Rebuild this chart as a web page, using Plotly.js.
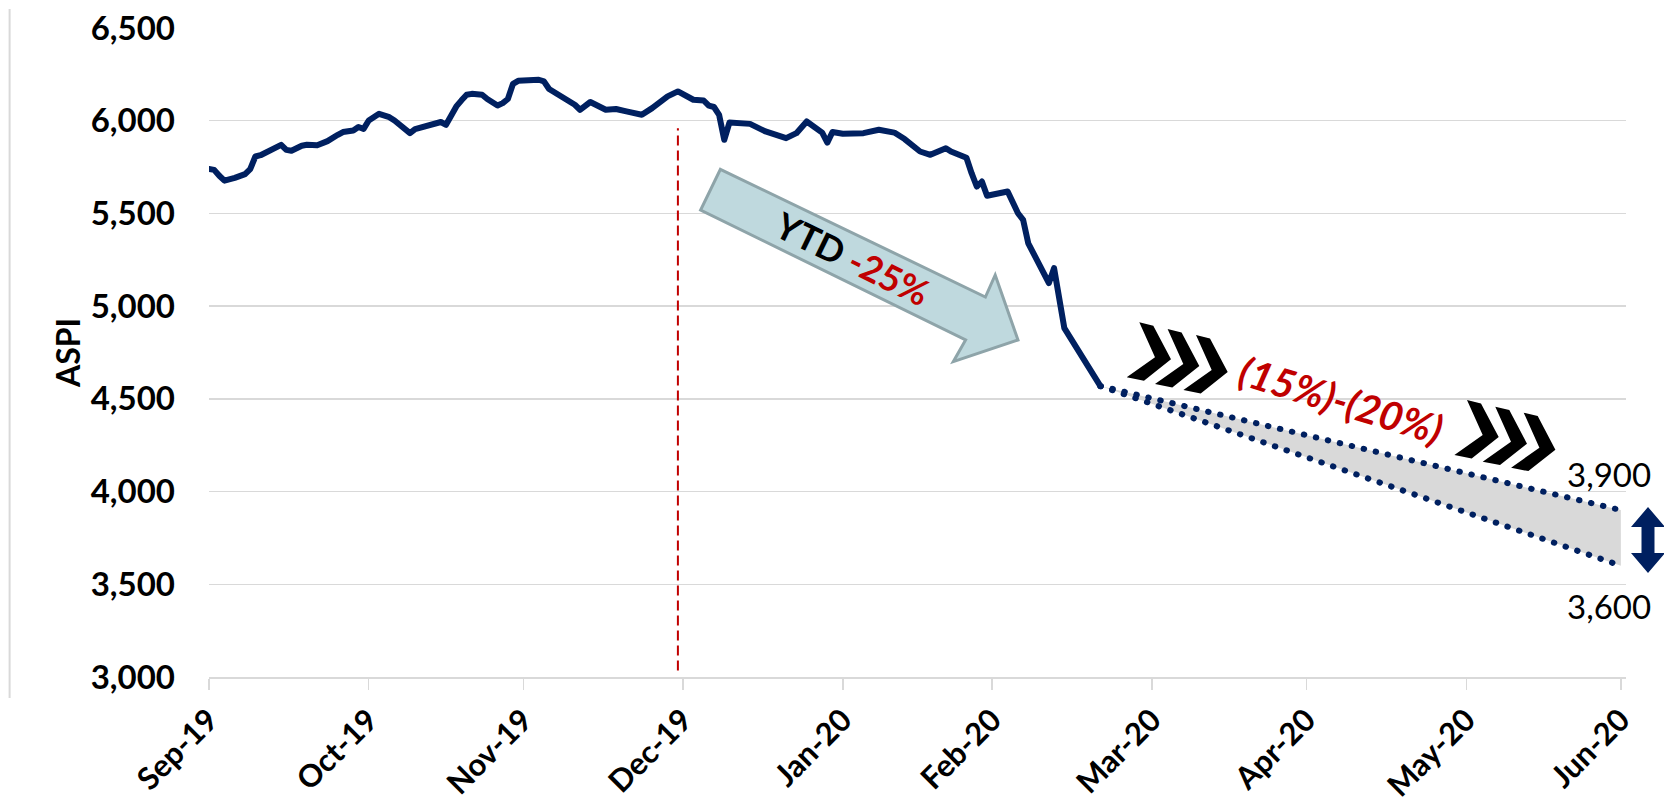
<!DOCTYPE html>
<html>
<head>
<meta charset="utf-8">
<script src="https://cdn.plot.ly/plotly-3.0.1.min.js"></script>
<style>
  html, body { margin: 0; padding: 0; background: #ffffff; }
  #chart { width: 1664px; height: 804px; }
  .scatterlayer .js-line { stroke-linecap: round; stroke-linejoin: round; }
</style>
</head>
<body>
<div id="chart"></div>
<script>
// ---- Data ----
const aspiDates = [
  "2019-09-30","2019-10-01","2019-10-02","2019-10-03","2019-10-05","2019-10-07","2019-10-08","2019-10-09","2019-10-10","2019-10-12",
  "2019-10-14","2019-10-15","2019-10-16","2019-10-18","2019-10-19","2019-10-21","2019-10-23","2019-10-25","2019-10-26","2019-10-28",
  "2019-10-29","2019-10-30","2019-10-31","2019-11-02","2019-11-04","2019-11-05","2019-11-07","2019-11-08","2019-11-09","2019-11-12",
  "2019-11-14","2019-11-15","2019-11-16","2019-11-17","2019-11-18","2019-11-19","2019-11-20","2019-11-22","2019-11-23","2019-11-25",
  "2019-11-26","2019-11-27","2019-11-28","2019-11-29","2019-12-03","2019-12-04","2019-12-05","2019-12-06","2019-12-09","2019-12-10",
  "2019-12-11","2019-12-13","2019-12-16","2019-12-18","2019-12-20","2019-12-21","2019-12-23","2019-12-25","2019-12-26","2019-12-28",
  "2019-12-30","2020-01-01","2020-01-02","2020-01-04","2020-01-05","2020-01-06","2020-01-07","2020-01-08","2020-01-09","2020-01-13",
  "2020-01-16","2020-01-20","2020-01-22","2020-01-24","2020-01-27","2020-01-28","2020-01-29","2020-01-31","2020-02-04","2020-02-07",
  "2020-02-10","2020-02-12","2020-02-15","2020-02-17","2020-02-20","2020-02-21","2020-02-24","2020-02-25","2020-02-26","2020-02-27",
  "2020-02-28","2020-03-03","2020-03-05","2020-03-06","2020-03-07","2020-03-11","2020-03-12","2020-03-14","2020-03-21"
];
const aspiValues = [
  5740,5735,5703,5677,5692,5712,5739,5807,5814,5843,
  5870,5843,5838,5865,5870,5868,5890,5924,5939,5947,
  5966,5956,6001,6037,6019,6001,5956,5933,5955,5978,
  5993,5978,6030,6077,6110,6140,6145,6140,6117,6082,
  6095,6117,6199,6215,6221,6212,6171,6155,6109,6086,
  6059,6101,6059,6063,6050,6044,6032,6068,6091,6131,
  6158,6131,6113,6109,6081,6074,6032,5897,5990,5983,
  5942,5906,5933,5996,5936,5882,5939,5930,5933,5951,
  5936,5901,5834,5816,5852,5834,5800,5717,5645,5672,
  5595,5618,5501,5465,5339,5124,5205,4881,4569
];
const projDates = ["2020-03-21", "2020-06-30"];
const projUpper = [4569, 3900];   // -15%
const projLower = [4569, 3600];   // -20%

const tickDates = ["2019-09-30","2019-10-31","2019-11-30","2019-12-31","2020-01-31",
                   "2020-02-29","2020-03-31","2020-04-30","2020-05-31","2020-06-30"];
const tickLabels = ["Sep-19","Oct-19","Nov-19","Dec-19","Jan-20",
                    "Feb-20","Mar-20","Apr-20","May-20","Jun-20"];
const ytdMarkerDate = "2019-12-30";
const ytdLabel = "YTD";
const ytdChange = "-25%";
const rangeLabel = "(15%)-(20%)";
const upperLabel = "3,900";
const lowerLabel = "3,600";

// ---- Layout geometry ----
const W = 1664, H = 804;
const M = { l: 209, r: 38, t: 28, b: 127 };
const PW = W - M.l - M.r, PH = H - M.t - M.b;
const px = x => (x - M.l) / PW;
const py = y => (H - M.b - y) / PH;
function pathFrom(points) {
  return "M " + points.map(p => px(p[0]).toFixed(5) + "," + py(p[1]).toFixed(5)).join(" L ") + " Z";
}

const NAVY = "#002060", RED = "#c00000", GRID = "#d9d9d9";

// chevron geometry (pixel offsets)
const chev = [[0,0],[14,3.4],[31.7,37],[4.7,58.4],[-12.6,55],[15.7,35]];
function chevronShapes(bx, by) {
  const out = [];
  [[0,0],[28.3,6.7],[56.7,12.7]].forEach(o => {
    out.push({
      type: "path", xref: "paper", yref: "paper", layer: "above",
      path: pathFrom(chev.map(p => [bx + o[0] + p[0], by + o[1] + p[1]])),
      fillcolor: "#000000", line: { width: 0 }
    });
  });
  return out;
}

const shapes = [
  // left chart border fragment
  { type: "line", xref: "paper", yref: "paper", x0: px(9.6), x1: px(9.6), y0: py(9), y1: py(698),
    line: { color: GRID, width: 2 } },
  // YTD marker line
  { type: "line", xref: "x", yref: "y", x0: ytdMarkerDate, x1: ytdMarkerDate, y0: 3035, y1: 5960,
    line: { color: RED, width: 2, dash: "10px,5px" }, layer: "above" },
  // YTD block arrow
  { type: "path", xref: "paper", yref: "paper", layer: "above",
    path: pathFrom([[720.4,169.3],[985.4,297],[995.2,275],[1018,340],[953.3,361.7],[965.6,340],[700.6,210]]),
    fillcolor: "#bfd9de", line: { color: "#8ea4a9", width: 3 } },
  // double arrow
  { type: "path", xref: "paper", yref: "paper", layer: "above",
    path: pathFrom([[1648,507],[1665,527],[1654.5,527],[1654.5,553],[1665,553],[1648,573],
                    [1631,553],[1641.5,553],[1641.5,527],[1631,527]]),
    fillcolor: NAVY, line: { width: 0 } }
].concat(chevronShapes(1139.3, 322.3)).concat(chevronShapes(1467, 400));

const annotations = [
  { xref: "paper", yref: "paper", x: px(852), y: py(258), xanchor: "center", yanchor: "middle",
    showarrow: false, textangle: 26,
    text: ytdLabel + " <span style='color:" + RED + "'>" + ytdChange + "</span>",
    font: { family: "Lato", size: 36, color: "#000000", weight: "bold" } },
  { xref: "paper", yref: "paper", x: px(1341), y: py(400), xanchor: "center", yanchor: "middle",
    showarrow: false, textangle: 17,
    text: rangeLabel,
    font: { family: "Lato", size: 40, color: RED, weight: "bold", style: "italic" } },
  { xref: "paper", yref: "paper", x: px(1609), y: py(474), xanchor: "center", yanchor: "middle",
    showarrow: false, text: upperLabel, font: { family: "Lato", size: 33, color: "#000000" } },
  { xref: "paper", yref: "paper", x: px(1609), y: py(606), xanchor: "center", yanchor: "middle",
    showarrow: false, text: lowerLabel, font: { family: "Lato", size: 33, color: "#000000" } }
];

const traces = [
  { x: projDates, y: projLower, type: "scatter", mode: "lines", hoverinfo: "skip",
    line: { color: NAVY, width: 6, dash: "0.5px,11.8px" } },
  { x: projDates, y: projUpper, type: "scatter", mode: "lines", hoverinfo: "skip",
    fill: "tonexty", fillcolor: GRID,
    line: { color: NAVY, width: 6, dash: "0.5px,11.8px" } },
  { x: aspiDates, y: aspiValues, type: "scatter", mode: "lines", name: "ASPI",
    line: { color: NAVY, width: 6 } }
];

const layout = {
  width: W, height: H, autosize: false,
  margin: M,
  paper_bgcolor: "#ffffff", plot_bgcolor: "#ffffff",
  showlegend: false,
  font: { family: "Lato", color: "#000000" },
  xaxis: {
    type: "date", range: ["2019-09-30", "2020-07-01"], automargin: false,
    tickmode: "array", tickvals: tickDates, ticktext: tickLabels, tickangle: -45,
    tickfont: { family: "Lato", size: 31, weight: "bold", color: "#000000" },
    showgrid: false, zeroline: false,
    showline: true, linecolor: GRID, linewidth: 1.5,
    ticks: "outside", ticklen: 11, tickcolor: GRID, tickwidth: 1.5,
    ticklabelstandoff: 0
  },
  yaxis: {
    range: [3000, 6500], dtick: 500, tick0: 3000, tickformat: ",", automargin: false,
    tickfont: { family: "Lato", size: 33, weight: "bold", color: "#000000" },
    showgrid: true, gridcolor: GRID, gridwidth: 1.5, zeroline: false, showline: false,
    ticks: "", ticklabelstandoff: 33,
    title: { text: "ASPI", standoff: 0, font: { family: "Lato", size: 32, weight: "bold", color: "#000000" } }
  },
  shapes: shapes,
  annotations: annotations
};

Plotly.newPlot("chart", traces, layout, { staticPlot: true, displayModeBar: false });
</script>
</body>
</html>
